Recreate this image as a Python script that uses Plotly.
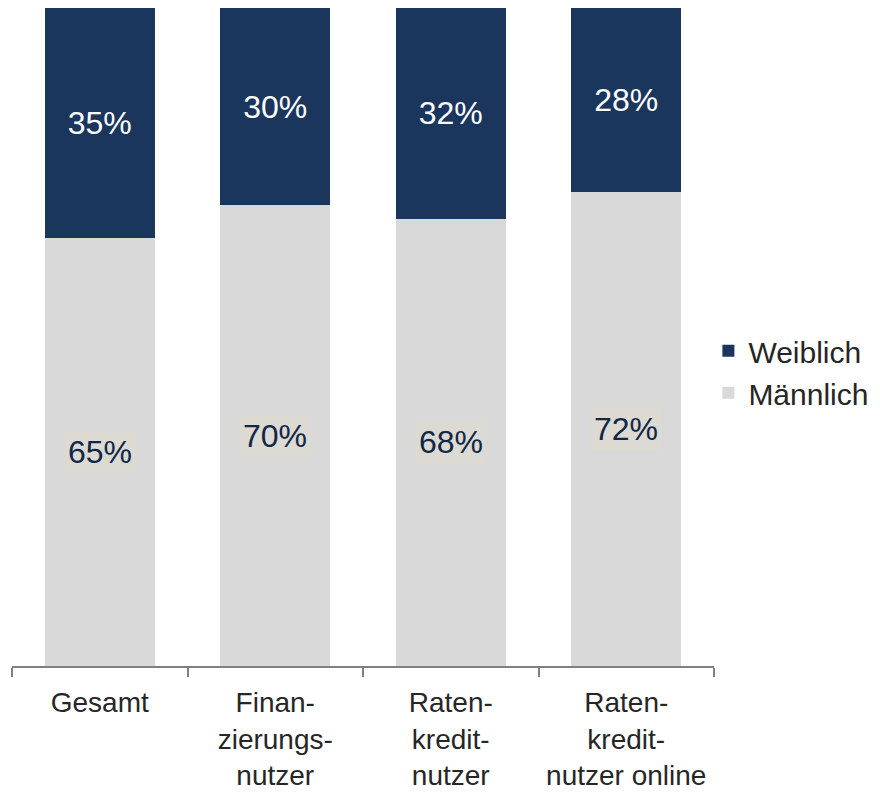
import plotly.graph_objects as go

categories = ["Gesamt", "Finanzierungsnutzer", "Ratenkreditnutzer", "Ratenkreditnutzer online"]
tick_labels = ["Gesamt", "Finan-<br>zierungs-<br>nutzer", "Raten-<br>kredit-<br>nutzer",
               "Raten-<br>kredit-<br>nutzer online"]
maennlich = [65, 70, 68, 72]
weiblich = [35, 30, 32, 28]

NAVY = "#1b365d"
GREY = "#d9d9d9"
FONT = "Liberation Sans, Arial, sans-serif"

fig = go.Figure()
fig.add_trace(go.Bar(
    x=categories, y=maennlich, name="Männlich",
    marker=dict(color=GREY, line=dict(width=0)),
    hoverinfo="skip",
))
fig.add_trace(go.Bar(
    x=categories, y=weiblich, name="Weiblich",
    marker=dict(color=NAVY, line=dict(width=0)),
    text=[f"{v}%" for v in weiblich],
    textposition="inside", insidetextanchor="middle",
    textfont=dict(color="white", size=32, family=FONT),
    hoverinfo="skip",
))

# male labels sit on a light box in the middle of the grey segment
for cat, v in zip(categories, maennlich):
    fig.add_annotation(
        x=cat, y=v / 2, text=f"{v}%", showarrow=False,
        font=dict(size=32, color="#0f2846", family=FONT),
        bgcolor="#ddd9d3", borderpad=3,
    )

# the page body adds an 8px offset, so shift the margins to compensate
fig.update_layout(
    barmode="stack",
    bargap=0.373,
    width=880, height=785,
    margin=dict(l=4, r=174, t=0, b=127, autoexpand=False),
    plot_bgcolor="white",
    paper_bgcolor="white",
    font=dict(family=FONT, size=30, color="#262626"),
    showlegend=True,
    legend=dict(
        x=0.992, xanchor="left", y=0.447, yanchor="middle",
        font=dict(size=30, color="#262626"),
        itemwidth=30, tracegroupgap=0,
        bgcolor="rgba(0,0,0,0)",
    ),
    xaxis=dict(
        tickmode="array", tickvals=categories, ticktext=tick_labels,
        tickson="boundaries", ticks="outside", ticklen=9, tickwidth=1.5,
        tickcolor="#808080", showline=True, linecolor="#808080", linewidth=1.5,
        showgrid=False, tickangle=0, automargin=False, ticklabelstandoff=11,
        tickfont=dict(size=28, color="#262626"),
    ),
    yaxis=dict(range=[0, 100], visible=False, showgrid=False, automargin=False),
)

fig.write_html("out.html")
